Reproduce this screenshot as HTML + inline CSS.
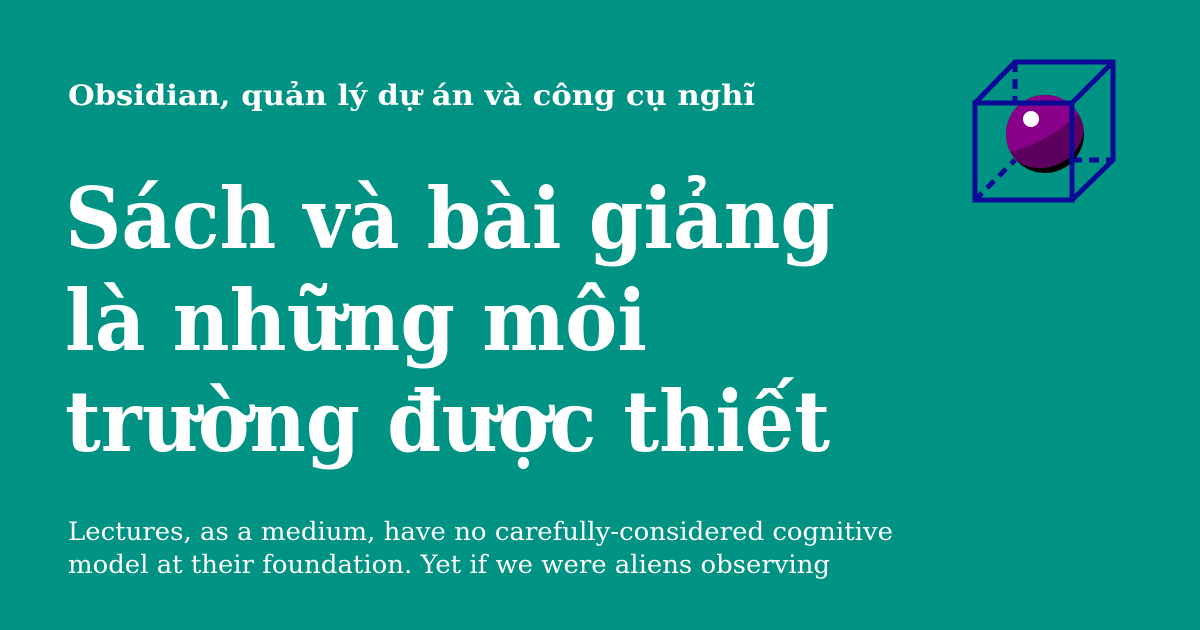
<!DOCTYPE html>
<html><head><meta charset="utf-8"><style>
html,body{margin:0;padding:0;width:1200px;height:630px;overflow:hidden;background:#009383}
svg{display:block}
text{fill:#fff;font-family:"DejaVu Serif","Liberation Serif",serif}
</style></head><body>
<svg width="1200" height="630" viewBox="0 0 1200 630">
<defs><clipPath id="sph"><circle cx="1045" cy="134" r="39"/></clipPath></defs>
<rect width="1200" height="630" fill="#009383"/>
<text x="68" y="105" font-size="28" font-weight="bold" textLength="687" lengthAdjust="spacingAndGlyphs">Obsidian, quản lý dự án và công cụ nghĩ</text>
<g font-size="84" font-weight="bold">
<text x="65" y="248" textLength="770" lengthAdjust="spacingAndGlyphs">Sách và bài giảng</text>
<text x="65" y="350" textLength="582" lengthAdjust="spacingAndGlyphs">là những môi</text>
<text x="65" y="451" textLength="765" lengthAdjust="spacingAndGlyphs">trường được thiết</text>
</g>
<g font-size="25">
<text x="68" y="540" textLength="825" lengthAdjust="spacingAndGlyphs">Lectures, as a medium, have no carefully-considered cognitive</text>
<text x="68" y="573" textLength="762" lengthAdjust="spacingAndGlyphs">model at their foundation. Yet if we were aliens observing</text>
</g>
<g>
<line x1="1015" y1="62" x2="1015" y2="103" stroke="#0a0a96" stroke-width="5" stroke-dasharray="10 7"/>
<line x1="1072" y1="160" x2="1113" y2="160" stroke="#0a0a96" stroke-width="5" stroke-dasharray="10 7"/>
<line x1="975" y1="200" x2="1015" y2="160" stroke="#0a0a96" stroke-width="5" stroke-dasharray="10 7"/>
<g clip-path="url(#sph)">
<rect x="1000" y="90" width="90" height="90" fill="#000"/>
<ellipse cx="1040" cy="126" rx="44" ry="42" fill="#5e005e"/>
<path d="M1000,155 Q1060,140 1090,100 L1090,90 L1000,90 Z" fill="#8a008a"/>
</g>
<circle cx="1031" cy="119" r="8" fill="#fff"/>
<rect x="975" y="103" width="97" height="97" fill="none" stroke="#0a0a96" stroke-width="5"/>
<path d="M975,103 L1015,62 L1113,62 L1113,160 L1072,200 M1072,103 L1113,62" fill="none" stroke="#0a0a96" stroke-width="5"/>
</g>
</svg>
</body></html>
